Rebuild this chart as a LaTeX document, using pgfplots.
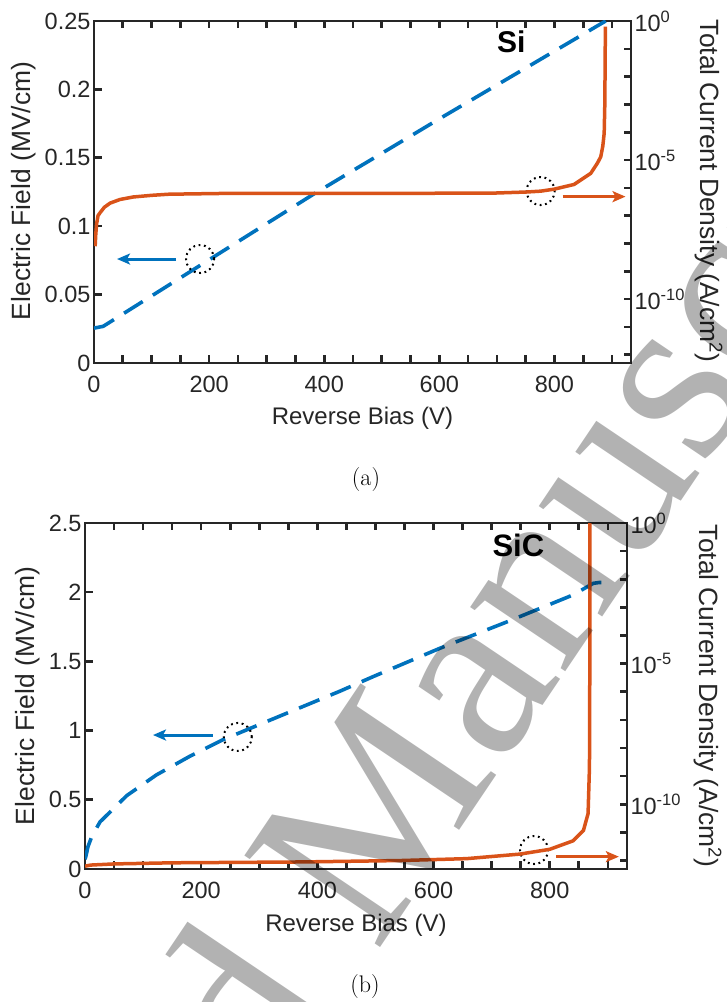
\documentclass[border=0pt]{standalone}
\usepackage{fontspec}
\usepackage{pgfplots}
\pgfplotsset{compat=1.18}
\usetikzlibrary{arrows.meta}
\newfontfamily\arial{Liberation Sans}
\newfontfamily\wmfont{Liberation Serif}
\definecolor{mblue}{rgb}{0,0.447,0.741}
\definecolor{morange}{rgb}{0.85,0.325,0.098}
\definecolor{axgray}{rgb}{0.15,0.15,0.15}
\newcommand\tickfont{\arial\fontsize{23.5}{26}\selectfont}
\newcommand\xlabfont{\arial\fontsize{24}{28}\selectfont}
\newcommand\ylabfont{\arial\fontsize{26.4}{30}\selectfont}

\pgfplotsset{
  major tick length=7.5pt, minor tick length=7.5pt,
  tick align=inside,
  major tick style={draw=axgray, line width=2.6pt},
  minor tick style={draw=axgray, line width=2.6pt},
  panel/.style={
    scale only axis, anchor=south west,
    xmin=0, xmax=933,
    axis line style={line width=2.4pt, draw=axgray},
    tick label style={font=\tickfont, text=axgray,
      /pgf/number format/assume math mode=true},
    yticklabel style={/pgf/number format/fixed},
    xticklabel style={yshift=-10pt},
    xlabel style={font=\xlabfont, text=axgray, anchor=center},
    ylabel style={font=\ylabfont, text=axgray, anchor=center},
  },
  leftax/.style={panel,
    xtick={0,200,...,800}, minor xtick={0,50,...,900},
    xtick pos=both, xticklabel pos=left,
    ytick pos=left, yticklabel pos=left,
    xlabel={Reverse Bias (V)},
    ylabel={Electric Field (MV/cm)},
  },
  rightax/.style={panel,
    ymin=5.01e-13, ymax=1,
    axis x line=none, axis y line*=right,
    ytick={1e-10,1e-5,1},
    yticklabels={10\textsuperscript{-10},10\textsuperscript{-5},10\textsuperscript{0}},
    minor ytick={1e-12,1e-11,1e-9,1e-8,1e-7,1e-6,1e-4,1e-3,1e-2,1e-1},
    ylabel={Total Current Density (A/cm\textsuperscript{2})},
  },
  efield/.style={mblue, line width=3.6pt, dash pattern=on 22pt off 12pt},
  jcur/.style={morange, line width=3.5pt},
}

\begin{document}
\begin{tikzpicture}
\path[use as bounding box] (0,0) rectangle (727pt,1002pt);

% ---------- (a) Si ----------
\begin{axis}[leftax, at={(94pt,639pt)}, width=537pt, height=342pt,
  ymin=0, ymax=0.25, ytick={0,0.05,0.1,0.15,0.2,0.25},
  xlabel style={at={(axis description cs:0.5,-0.161)}},
  ylabel style={at={(axis description cs:-0.1317,0.503)}},
]
\addplot[efield] coordinates {
  (0,0.0255) (16,0.0268) (381,0.1233) (596.5,0.1776) (889,0.25)
};
\node[font=\arial\bfseries\fontsize{30}{32}\selectfont] at (axis cs:725,0.2349) {Si};
\draw[black, line width=2pt, dash pattern=on 1.8pt off 3.6pt] (axis cs:184.3,0.076) circle[radius=14pt];
\draw[black, line width=2pt, dash pattern=on 1.8pt off 3.6pt] (axis cs:776,0.1257) circle[radius=14pt];
\draw[mblue, line width=3pt, -{Stealth[length=13pt,width=11pt,inset=3pt]}] (axis cs:142.6,0.076) -- (axis cs:40,0.076);
\draw[morange, line width=3pt, -{Stealth[length=13pt,width=11pt,inset=3pt]}] (axis cs:814,0.1216) -- (axis cs:923.5,0.1216);
\end{axis}

\begin{axis}[ymode=log, rightax, at={(94pt,639pt)}, width=537pt, height=342pt,
  ylabel style={at={(axis description cs:1.145,0.503)}, rotate=180},
]
\addplot[jcur] coordinates {
  (2,7.94e-9) (3,2.00e-8) (4.5,5.01e-8) (7,1.00e-7) (10.4,1.26e-7)
  (18,2.00e-7) (28,2.82e-7) (45,3.80e-7) (68,4.68e-7) (100,5.37e-7)
  (130,5.89e-7) (231,6.31e-7) (500,6.31e-7) (694,6.46e-7) (752,7.08e-7)
  (776,7.59e-7) (799,8.91e-7) (834,1.32e-6) (863,3.31e-6) (875,7.94e-6)
  (880.5,1.32e-5) (884,3.16e-5) (886.4,9.12e-5) (887.5,1e-3)
  (888,2.29e-2) (888.5,0.631)
};
\end{axis}

% ---------- (b) SiC ----------
\begin{axis}[leftax, at={(85pt,133pt)}, width=542pt, height=346pt,
  ymin=0, ymax=2.5, ytick={0,0.5,1,1.5,2,2.5},
  xlabel style={at={(axis description cs:0.5,-0.162)}},
  ylabel style={at={(axis description cs:-0.1055,0.5)}},
]
\addplot[efield] coordinates {
  (0,0.07) (2,0.10) (5,0.16) (11.5,0.233) (25.8,0.34) (71.8,0.53)
  (123,0.68) (180.7,0.815) (238,0.935) (301,1.045) (370,1.165)
  (439,1.285) (496,1.39) (611,1.595) (726,1.785) (840,1.98)
  (875,2.064) (885,2.07) (898,2.07)
};
\node[font=\arial\bfseries\fontsize{31}{33}\selectfont] at (axis cs:746,2.341) {SiC};
\draw[black, line width=2pt, dash pattern=on 1.8pt off 3.6pt] (axis cs:263,0.954) circle[radius=14pt];
\draw[black, line width=2pt, dash pattern=on 1.8pt off 3.6pt] (axis cs:773,0.137) circle[radius=14pt];
\draw[mblue, line width=3pt, -{Stealth[length=13pt,width=11pt,inset=3pt]}] (axis cs:220,0.968) -- (axis cs:117,0.968);
\draw[morange, line width=3pt, -{Stealth[length=13pt,width=11pt,inset=3pt]}] (axis cs:811,0.089) -- (axis cs:919,0.089);
\end{axis}

\begin{axis}[ymode=log, rightax, at={(85pt,133pt)}, width=542pt, height=346pt,
  ylabel style={at={(axis description cs:1.149,0.5)}, rotate=180},
]
\addplot[jcur] coordinates {
  (0,6.31e-13) (10,6.92e-13) (50,7.59e-13) (150,8.32e-13) (370,8.91e-13)
  (542,1.0e-12) (657,1.17e-12) (749,1.70e-12) (800,2.51e-12)
  (840,5.01e-12) (858,1.17e-11) (866,4.68e-11) (868.4,2.14e-9)
  (869,1e-5) (869.2,1)
};
\end{axis}

% captions
\node[font=\fontsize{24}{28}\selectfont] at (366pt,522pt) {(a)};
\node[font=\fontsize{24}{28}\selectfont] at (365pt,15pt) {(b)};

% watermark
\begin{scope}
\clip (0,0) rectangle (727pt,1002pt);
\node[rotate=56, anchor=base west, inner sep=0pt, text=black, text opacity=0.3,
  font=\wmfont\fontsize{250}{250}\selectfont] at (376.5pt,48.7pt) {Manuscript};
\node[rotate=56, anchor=base east, inner sep=0pt, text=black, text opacity=0.3,
  font=\wmfont\fontsize{250}{250}\selectfont] at (341.6pt,-3.1pt) {Accepted};
\end{scope}
\end{tikzpicture}
\end{document}
